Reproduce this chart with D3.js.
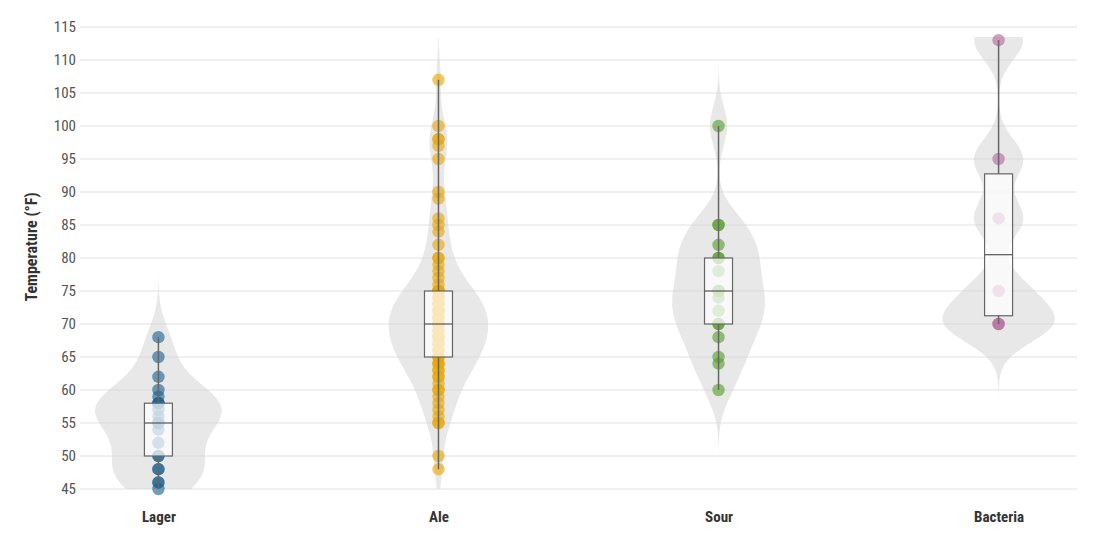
<!DOCTYPE html>
<html>
<head>
<meta charset="utf-8">
<script src="https://cdn.jsdelivr.net/npm/d3@7"></script>
<style>
  html, body { margin: 0; padding: 0; background: #fff; }
  svg { display: block; }
  text { font-family: "Roboto Condensed", "Liberation Sans Narrow", "DejaVu Sans Condensed", Roboto, sans-serif; }
</style>
</head>
<body>
<svg id="chart" width="1118" height="546"></svg>
<script>
// ---- data ----
const categories = ["Lager", "Ale", "Sour", "Bacteria"];
const lagerTemps = [45, 46, 46, 48, 48, 50, 50, 52, 54, 55, 55, 56, 57, 58, 58, 58, 59, 60, 62, 65, 68];
const aleTemps = [48, 50, 55, 55, 56, 57, 58, 59, 60, 60, 61, 62, 62, 63, 63, 64, 64, 64,
                  65, 65, 65, 66, 66, 66, 67, 67, 67, 68, 68, 68, 68, 69, 69, 69, 70, 70,
                  70, 70, 71, 71, 71, 72, 72, 72, 72, 73, 73, 73, 74, 74, 74, 75, 75, 75, 75,
                  76, 77, 78, 79, 80, 80, 82, 84, 85, 86, 89, 90, 95, 97, 98, 98, 100, 107];
const sourTemps = [60, 64, 65, 68, 70, 70, 72, 74, 75, 75, 78, 80, 80, 82, 85, 85, 100];
const bacteriaTemps = [70, 70, 75, 86, 95, 113];
const seriesValues = [lagerTemps, aleTemps, sourTemps, bacteriaTemps];
const pointColors = ["#1a6393", "#eca600", "#57a02a", "#b3689a"];
const yTickValues = [45, 50, 55, 60, 65, 70, 75, 80, 85, 90, 95, 100, 105, 110, 115];

(function () {
// ---- layout ----
const svg = d3.select("#chart");
const mLeft = 80, mRight = 1077, mTop = 27, mBottom = 489;
const FONT = '"Roboto Condensed", "Liberation Sans Narrow", "DejaVu Sans Condensed", Roboto, sans-serif';

const x = d3.scalePoint().domain(categories).range([mLeft, mRight]).padding(0.28);
const y = d3.scaleLinear().domain([45, 115]).range([mBottom, mTop]);

// gridlines
svg.append("g").selectAll("line").data(yTickValues).join("line")
  .attr("x1", mLeft).attr("x2", mRight)
  .attr("y1", d => y(d)).attr("y2", d => y(d))
  .attr("stroke", "#ebebeb").attr("stroke-width", 1.5);

// y axis labels
const yAxis = d3.axisLeft(y).tickValues(yTickValues).tickSize(0).tickPadding(4);
const gy = svg.append("g").attr("transform", `translate(${mLeft},0)`).call(yAxis);
gy.select(".domain").remove();
gy.selectAll("text").attr("fill", "#555").style("font-size", "15px").style("font-family", FONT);

// x axis labels
const xAxis = d3.axisBottom(x).tickSize(0).tickPadding(0);
const gx = svg.append("g").attr("transform", `translate(0,${mBottom + 22})`).call(xAxis);
gx.select(".domain").remove();
gx.selectAll("text").attr("fill", "#333").style("font-size", "15px").style("font-weight", "bold").style("font-family", FONT);

// y title
svg.append("text")
  .attr("transform", `translate(37,247) rotate(-90)`)
  .attr("text-anchor", "middle")
  .attr("fill", "#333").style("font-size", "16px").style("font-weight", "bold").style("font-family", FONT)
  .text("Temperature (°F)");

// ---- violins (gaussian KDE) ----
const bandwidth = 3;
const allVals = seriesValues.flat();
const gridLo = d3.min(allVals), gridHi = d3.max(allVals) + 0.5;
const grid = d3.range(gridLo, gridHi + 0.001, 0.25);
const gauss = u => Math.exp(-0.5 * u * u) / Math.sqrt(2 * Math.PI);
function kde(vals) {
  return grid.map(t => [t, d3.mean(vals, v => gauss((t - v) / bandwidth)) / bandwidth]);
}
const densities = seriesValues.map(kde);
const wScale = d3.scaleLinear().domain([0, 0.05]).range([0, 55]);

const area = d3.area()
  .x0(d => -wScale(d[1])).x1(d => wScale(d[1]))
  .y(d => y(d[0]))
  .curve(d3.curveBasis);

const groups = svg.append("g").selectAll("g").data(categories).join("g")
  .attr("transform", d => `translate(${x(d)},0)`);

groups.append("path")
  .attr("d", (d, i) => area(densities[i]))
  .attr("fill", "#d2d2d2").attr("fill-opacity", 0.52);

// points
groups.each(function (d, i) {
  d3.select(this).append("g").selectAll("circle").data(seriesValues[i]).join("circle")
    .attr("cx", 0).attr("cy", v => y(v)).attr("r", 6.2)
    .attr("fill", pointColors[i]).attr("fill-opacity", 0.62);
});

// box stats
const stats = seriesValues.map(vals => {
  const s = vals.slice().sort(d3.ascending);
  return { q1: d3.quantile(s, 0.25), med: d3.quantile(s, 0.5), q3: d3.quantile(s, 0.75), min: s[0], max: s[s.length - 1] };
});
const boxW = 28;

groups.append("rect")
  .attr("x", -boxW / 2).attr("width", boxW)
  .attr("y", (d, i) => y(stats[i].q3))
  .attr("height", (d, i) => y(stats[i].q1) - y(stats[i].q3))
  .attr("fill", "#fff").attr("fill-opacity", 0.72)
  .attr("stroke", "#666").attr("stroke-width", 1.2);

groups.append("line")
  .attr("x1", -boxW / 2).attr("x2", boxW / 2)
  .attr("y1", (d, i) => y(stats[i].med)).attr("y2", (d, i) => y(stats[i].med))
  .attr("stroke", "#555").attr("stroke-width", 1.2);

groups.append("line")
  .attr("x1", 0).attr("x2", 0)
  .attr("y1", (d, i) => y(stats[i].q3)).attr("y2", (d, i) => y(stats[i].max))
  .attr("stroke", "#666").attr("stroke-width", 1.5);
groups.append("line")
  .attr("x1", 0).attr("x2", 0)
  .attr("y1", (d, i) => y(stats[i].q1)).attr("y2", (d, i) => y(stats[i].min))
  .attr("stroke", "#666").attr("stroke-width", 1.5);
})();
</script>
</body>
</html>
